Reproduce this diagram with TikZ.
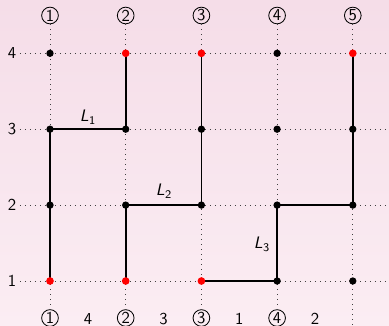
\documentclass[tikz,border=0pt]{standalone}
\begin{document}
\begin{tikzpicture}[x=0.6pt,y=-0.6pt,
  grid/.style={draw=black!75, line width=0.5pt, dash pattern=on 0.5pt off 2.5pt},
  wire/.style={draw=black, line width=1pt},
  bdot/.style={circle, fill=black, minimum size=4.4pt, inner sep=0pt},
  rdot/.style={circle, fill=red, minimum size=4.6pt, inner sep=0pt},
  cnum/.style={circle, draw=black, line width=0.5pt, minimum size=10pt, inner sep=0pt, font=\sffamily},
  lbl/.style={font=\sffamily, inner sep=1pt}]
\definecolor{bgtop}{RGB}{245,221,232}
\definecolor{bgbot}{RGB}{251,237,243}
\shade[top color=bgtop, bottom color=bgbot] (0,0) rectangle (389,326);
\useasboundingbox (0,0) rectangle (389,326);
% coordinates
\foreach \i/\x in {1/50,2/125.7,3/201.4,4/277.1,5/352.8}{
  \foreach \r/\y in {1/281,2/205.1,3/129.2,4/53.3}{
    \coordinate (g\i\r) at (\x,\y);
  }
  \node[cnum] (t\i) at (\x,15.5) {\i};
}
\foreach \i/\x in {1/50,2/125.7,3/201.4,4/277.1}{
  \node[cnum] (b\i) at (\x,318) {\i};
}
\coordinate (b5) at (352.8,330);
\foreach \r/\y in {1/281,2/205.1,3/129.2,4/53.3}{
  \node[lbl, inner sep=2pt] (r\r) at (12,\y) {\r};
  \coordinate (e\r) at (392,\y);
}
% dotted grid
\foreach \r in {1,2,3,4}{ \draw[grid] (r\r) -- (e\r); }
\foreach \i in {1,2,3,4,5}{ \draw[grid] (t\i) -- (b\i); }
% wires
\draw[wire] (g24) -- (g23) -- (g13) -- (g11);
\draw[wire] (g34) -- (g32) -- (g22) -- (g21);
\draw[wire] (g54) -- (g52) -- (g42) -- (g41) -- (g31);
% labels
\node[lbl] (L1) at (88,117) {\textit{L}$_{\mathsf{1}}$};
\node[lbl] (L2) at (164,191) {\textit{L}$_{\mathsf{2}}$};
\node[lbl] (L3) at (262,244) {\textit{L}$_{\mathsf{3}}$};
% bottom numbers
\node[lbl] (n1) at (88,319) {4};
\node[lbl] (n2) at (163.5,319) {3};
\node[lbl] (n3) at (239.2,319) {1};
\node[lbl] (n4) at (315,319) {2};
% dots
\foreach \p/\s in {14/bdot,24/rdot,34/rdot,44/bdot,54/rdot,
                   13/bdot,23/bdot,33/bdot,43/bdot,53/bdot,
                   12/bdot,22/bdot,32/bdot,42/bdot,52/bdot,
                   11/rdot,21/rdot,31/rdot,41/bdot,51/bdot}{
  \node[\s] (d\p) at (g\p) {};
}
\end{tikzpicture}
\end{document}
